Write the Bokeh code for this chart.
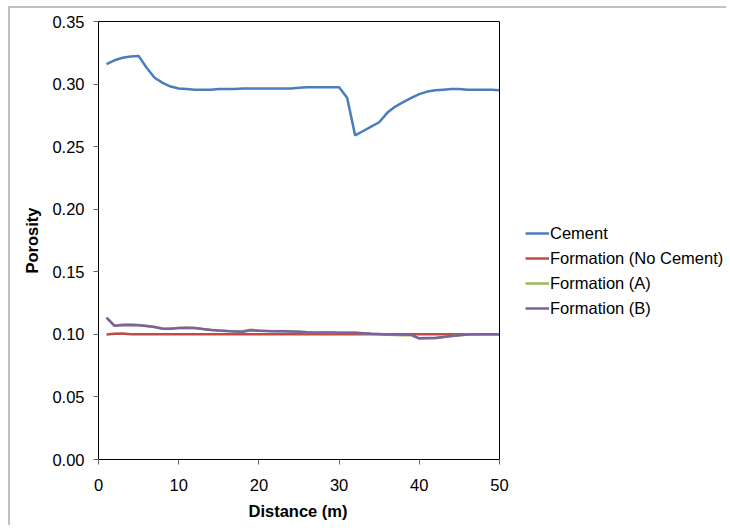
from bokeh.plotting import figure
from bokeh.models import (Legend, LegendItem, NumeralTickFormatter, FixedTicker, Range1d,
                          LinearAxis, Span, Title)
from bokeh.embed import file_html
from bokeh.resources import INLINE

distance = list(range(1, 51))

cement = [0.316, 0.319, 0.321, 0.322, 0.3225, 0.313, 0.305, 0.301, 0.298, 0.2965,
          0.296, 0.2955, 0.2955, 0.2955, 0.296, 0.296, 0.296, 0.2965, 0.2965, 0.2965,
          0.2965, 0.2965, 0.2965, 0.2965, 0.297, 0.2975, 0.2975, 0.2975, 0.2975, 0.2975,
          0.289, 0.259, 0.2625, 0.266, 0.2695, 0.277, 0.282, 0.2855, 0.289, 0.292,
          0.294, 0.295, 0.2955, 0.296, 0.296, 0.2955, 0.2955, 0.2955, 0.2955, 0.295]

formation_no_cement = [0.0998, 0.1005, 0.1006, 0.1, 0.1, 0.1, 0.1, 0.1, 0.1, 0.1,
                       0.1, 0.1, 0.1, 0.1, 0.1, 0.1, 0.1, 0.1, 0.1, 0.1,
                       0.1, 0.1, 0.1, 0.1, 0.1, 0.1, 0.1, 0.1, 0.1, 0.1,
                       0.1, 0.1, 0.1, 0.1, 0.1, 0.1, 0.1, 0.1, 0.1, 0.1,
                       0.1, 0.1, 0.1, 0.1, 0.1, 0.1, 0.1, 0.1, 0.1, 0.1]

formation_a = [0.1133, 0.1069, 0.1078, 0.1078, 0.1074, 0.1067, 0.1058, 0.1046, 0.1045, 0.1050,
               0.1052, 0.1050, 0.1043, 0.1036, 0.1031, 0.1027, 0.1024, 0.1026, 0.1036, 0.1030,
               0.1027, 0.1025, 0.1024, 0.1022, 0.1020, 0.1016, 0.1014, 0.1015, 0.1015, 0.1012,
               0.1012, 0.1012, 0.1008, 0.1004, 0.1001, 0.0996, 0.0994, 0.0993, 0.0994, 0.0966,
               0.0969, 0.0971, 0.0978, 0.0986, 0.0993, 0.0998, 0.1, 0.1, 0.1, 0.1]

formation_b = [0.1133, 0.1068, 0.1072, 0.1075, 0.1072, 0.1066, 0.1058, 0.1045, 0.1045, 0.1050,
               0.1052, 0.1050, 0.1042, 0.1035, 0.1030, 0.1026, 0.1022, 0.1020, 0.1032, 0.1028,
               0.1026, 0.1024, 0.1024, 0.1022, 0.1020, 0.1016, 0.1013, 0.1015, 0.1015, 0.1012,
               0.1012, 0.1012, 0.1008, 0.1004, 0.1002, 0.0998, 0.0998, 0.0999, 0.0996, 0.0968,
               0.0970, 0.0971, 0.0978, 0.0986, 0.0993, 0.0998, 0.1, 0.1, 0.1, 0.1]

series_names = ["Cement", "Formation (No Cement)", "Formation (A)", "Formation (B)"]
series_colors = ["#4A7EBB", "#BE4B48", "#98B954", "#7D60A0"]
x_ticks = [0, 10, 20, 30, 40, 50]
y_ticks = [0.0, 0.05, 0.10, 0.15, 0.20, 0.25, 0.30, 0.35]
x_min, x_max = 0, 50
y_min, y_max = 0.0, 0.35

FONT = "Liberation Sans"
FS = "16.5px"

# canvas placed at (10, 8) with a light grey edge on its top and left; frame left edge at 98 px
W, H = 716, 517
MB_LEFT, MB_RIGHT, MB_TOP, MB_BOTTOM = 88, 2, 13, 66
PLOT_PX = 401  # width of the 0..50 data box in px
frame_w = W - MB_LEFT - MB_RIGHT
x_view_end = x_max * frame_w / PLOT_PX  # frame is wider than the data box to hold the legend

p = figure(width=W, height=H, output_backend="svg", toolbar_location=None,
           x_range=Range1d(x_min, x_view_end), y_range=Range1d(y_min, y_max),
           min_border_left=MB_LEFT, min_border_right=MB_RIGHT,
           min_border_top=MB_TOP, min_border_bottom=MB_BOTTOM)
p.styles = {"margin-left": "10px", "margin-top": "8px",
            "box-shadow": "-2px 0 0 0 #c0c0c0, 0 -2px 0 0 #c0c0c0, -2px -2px 0 0 #c0c0c0"}

p.xgrid.visible = False
p.ygrid.visible = False
p.outline_line_color = None
p.background_fill_color = "white"
p.border_fill_color = "white"

renderers = []
for data, color in zip([cement, formation_no_cement, formation_a, formation_b], series_colors):
    r = p.line(distance, data, line_color=color, line_width=2.5)
    renderers.append(r)

for ax in (p.xaxis[0], p.yaxis[0]):
    ax.axis_line_color = "black"
    ax.major_tick_line_color = "#666666"
    ax.minor_tick_line_color = None
    ax.major_tick_out = 5
    ax.major_tick_in = 0
    ax.major_label_text_font = FONT
    ax.major_label_text_font_size = FS
    ax.major_label_text_color = "black"
    ax.axis_label_text_font = FONT
    ax.axis_label_text_font_size = FS
    ax.axis_label_text_font_style = "bold"
    ax.axis_label_text_color = "black"

p.xaxis.ticker = FixedTicker(ticks=x_ticks)
p.xaxis.bounds = (x_min, x_max)
p.yaxis.ticker = FixedTicker(ticks=y_ticks)
p.yaxis.formatter = NumeralTickFormatter(format="0.00")
p.yaxis.axis_label = "Porosity"
p.yaxis.major_label_standoff = 9
p.xaxis.major_label_standoff = 14
p.yaxis.axis_label_standoff = 8

# top edge of the plot box
top_axis = LinearAxis(ticker=FixedTicker(ticks=[]), bounds=(x_min, x_max),
                      axis_line_color="black", major_tick_line_color=None,
                      minor_tick_line_color=None, major_label_text_color=None)
p.add_layout(top_axis, "above")
# right edge of the plot box
p.add_layout(Span(location=x_max, dimension="height", line_color="black", line_width=1))

# x axis title centred under the data box
p.add_layout(Title(text="Distance (m)", align="left", offset=150, standoff=12,
                   text_font=FONT, text_font_size=FS, text_font_style="bold",
                   text_color="black"), "below")

legend = Legend(items=[LegendItem(label=n, renderers=[r]) for n, r in zip(series_names, renderers)],
                location=(427, 141), padding=0, margin=0, spacing=5,
                glyph_width=24, glyph_height=20, label_height=20, label_standoff=1,
                label_text_font=FONT, label_text_font_size=FS, label_text_color="black",
                border_line_color=None, background_fill_alpha=0)
p.add_layout(legend, "center")

open("out.html", "w").write(file_html(p, INLINE))
